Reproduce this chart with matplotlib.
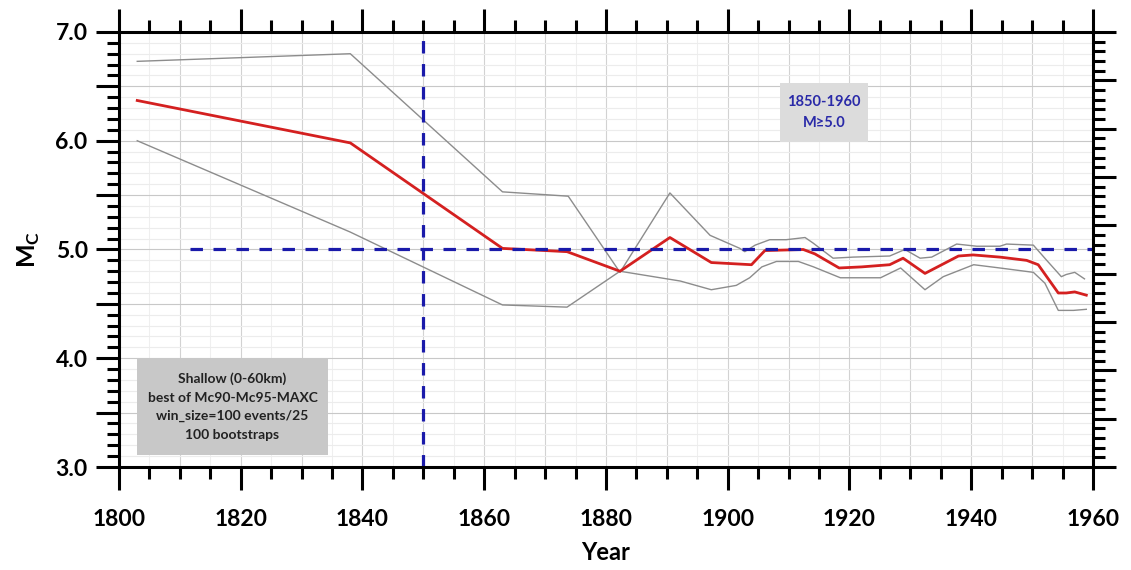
import matplotlib
matplotlib.use("Agg")
import matplotlib.pyplot as plt
import numpy as np
from matplotlib.patches import Rectangle
from matplotlib.ticker import MultipleLocator, FixedLocator, NullFormatter

plt.rcParams['font.family'] = ['Lato', 'DejaVu Sans']

# Mc time series (median) and bootstrap bounds
years_mc = [1803, 1838, 1863, 1873.6, 1882.3, 1890.5, 1897.3, 1903.9, 1906.1,
            1912.4, 1914.3, 1918.3, 1922, 1926.6, 1928.8, 1932.4, 1937.9,
            1940.3, 1944.7, 1949.1, 1951, 1954.3, 1955.6, 1957, 1958.9]
mc = [6.37, 5.98, 5.01, 4.98, 4.80, 5.11, 4.88, 4.86, 4.99,
      5.00, 4.96, 4.83, 4.84, 4.86, 4.92, 4.78, 4.94,
      4.95, 4.93, 4.90, 4.86, 4.60, 4.60, 4.61, 4.58]

years_hi = [1803, 1838, 1863, 1873.8, 1882.3, 1890.5, 1897.1, 1902, 1902.8,
            1904.5, 1906.9, 1909.6, 1912.7, 1914, 1917.3, 1920.6, 1926.6,
            1929.1, 1931.6, 1933.5, 1937.6, 1940.9, 1944.7, 1945.8, 1950.2,
            1952.4, 1954.8, 1955.6, 1957, 1958.6]
mc_hi = [6.73, 6.80, 5.53, 5.49, 4.79, 5.52, 5.13, 5.01, 4.98,
         5.04, 5.09, 5.09, 5.11, 5.06, 4.92, 4.93, 4.94,
         5.00, 4.92, 4.93, 5.05, 5.03, 5.03, 5.05, 5.04,
         4.90, 4.75, 4.77, 4.79, 4.73]

years_lo = [1803, 1838, 1863, 1873.6, 1882.3, 1892.2, 1897.3, 1901.4, 1903.6,
            1905.6, 1908, 1911.6, 1914.1, 1918.5, 1925.1, 1928.4, 1932.4,
            1935.4, 1940.4, 1944.7, 1950.2, 1952.1, 1954.3, 1956.8, 1958.9]
mc_lo = [6.00, 5.16, 4.49, 4.47, 4.80, 4.71, 4.63, 4.67, 4.74,
         4.84, 4.89, 4.89, 4.84, 4.74, 4.74, 4.83, 4.63,
         4.75, 4.86, 4.83, 4.79, 4.69, 4.44, 4.44, 4.45]

ref_year = 1850
ref_mag = 5.0
ref_mag_start = 1811.7

x_ticks = [1800, 1820, 1840, 1860, 1880, 1900, 1920, 1940, 1960]

fig = plt.figure(figsize=(11.31, 5.70), dpi=100)
ax = fig.add_axes([0.1052, 0.1807, 0.8612, 0.7632])
ax.set_xlim(1800, 1960)
ax.set_ylim(3.0, 7.0)

# background grid
for yr in np.arange(1805, 1960, 5):
    major = yr % 10 == 0
    ax.axvline(yr, color='#d2d2d2' if major else '#efefef', lw=0.8, zorder=0)
for m in np.arange(3.1, 7.0, 0.1):
    major = abs(m * 2 - round(m * 2)) < 1e-6
    ax.axhline(m, color='#c8c8c8' if major else '#ececec', lw=0.8, zorder=0)

ax.plot(years_hi, mc_hi, color='#8c8c8c', lw=1.0, zorder=3)
ax.plot(years_lo, mc_lo, color='#8c8c8c', lw=1.0, zorder=3)
ax.plot(years_mc, mc, color='#d42020', lw=2.0, zorder=4)

ax.plot([ref_mag_start, 1960], [ref_mag, ref_mag], color='#1a1aaa', lw=2.3,
        dashes=(3.9, 3.3), zorder=5)
ax.plot([ref_year, ref_year], [3.0, 7.0], color='#1a1aaa', lw=2.3,
        dashes=(3.9, 3.3), zorder=5)

# annotation boxes
ax.add_patch(Rectangle((0.0185, 0.0276), 0.1961, 0.223, transform=ax.transAxes,
                       facecolor='#c8c8c8', edgecolor='none', zorder=6))
ax.text(0.1165, 0.139,
        'Shallow (0-60km)\nbest of Mc90-Mc95-MAXC\nwin_size=100 events/25\n100 bootstraps',
        transform=ax.transAxes, ha='center', va='center', fontsize=10,
        fontweight='bold', color='#222222', linespacing=1.65, zorder=7)

ax.add_patch(Rectangle((0.6786, 0.747), 0.0904, 0.136, transform=ax.transAxes,
                       facecolor='#dcdcdc', edgecolor='none', zorder=6))
ax.text(0.7238, 0.815, '1850-1960\nM\u22655.0', transform=ax.transAxes,
        ha='center', va='center', fontsize=10.5, fontweight='bold',
        color='#2a2aa8', linespacing=1.6, zorder=7)

# axes styling
for s in ax.spines.values():
    s.set_linewidth(2.2)
    s.set_zorder(8)
ax.xaxis.set_major_locator(FixedLocator(x_ticks))
ax.xaxis.set_minor_locator(MultipleLocator(5))
ax.yaxis.set_major_locator(MultipleLocator(0.5))
ax.yaxis.set_minor_locator(MultipleLocator(0.1))
ax.yaxis.set_major_formatter(
    plt.FuncFormatter(lambda v, p: f'{v:.1f}' if abs(v - round(v)) < 1e-6 else ''))
ax.tick_params(which='major', direction='out', length=16.5, width=2.2,
               top=True, labeltop=False, labelsize=16.5)
ax.tick_params(which='minor', direction='out', length=8.6, width=2.2, top=True)
ax.tick_params(axis='x', which='major', pad=14)
ax.tick_params(axis='y', which='major', pad=6)
for lab in ax.get_xticklabels() + ax.get_yticklabels():
    lab.set_fontweight('bold')

# right-hand axis with its own tick spacing
ax2 = ax.twinx()
ax2.set_ylim(0, 9)
ax2.yaxis.set_major_locator(MultipleLocator(1))
ax2.yaxis.set_minor_locator(MultipleLocator(0.2))
ax2.yaxis.set_major_formatter(NullFormatter())
ax2.tick_params(which='major', direction='out', length=16.5, width=2.2)
ax2.tick_params(which='minor', direction='out', length=8.6, width=2.2)
for s in ax2.spines.values():
    s.set_visible(False)

ax.set_xlabel('Year', fontsize=17, fontweight='bold', labelpad=8)
ax.set_ylabel(r'M$_{\mathregular{C}}$', fontsize=18, fontweight='bold', labelpad=10)

fig.savefig('out.png', dpi=100)
